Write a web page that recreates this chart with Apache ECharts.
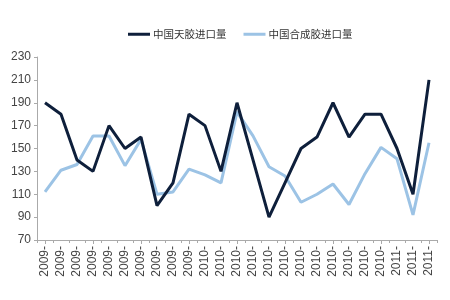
<!DOCTYPE html>
<html><head><meta charset="utf-8">
<script src="https://cdn.jsdelivr.net/npm/echarts@6/dist/echarts.min.js"></script>
<style>html,body{margin:0;padding:0;background:#fff}#c{width:450px;height:300px}</style>
</head><body><div id="c"></div>
<script>
var categories = ["2009-","2009-","2009-","2009-","2009-","2009-","2009-","2009-","2009-","2009-",
  "2010-","2010-","2010-","2010-","2010-","2010-","2010-","2010-","2010-","2010-","2010-","2010-",
  "2011-","2011-","2011-"];
var seriesNames = ["中国天胶进口量", "中国合成胶进口量"];
var naturalRubber = [190,180,140,130,170,150,160,100,120,180,170,130,190,140,90,120,150,160,190,160,180,180,150,110,210];
var syntheticRubber = [112,131,136,161,161,135,158,110,112,132,127,120,182,161,134,126,103,110,119,101,128,151,141,92,155];
var yTicks = {min:70, max:230, interval:20};

var chart = echarts.init(document.getElementById('c'));
var font = 'Liberation Sans, Arial, sans-serif';
chart.setOption({
  animation:false,
  backgroundColor:'#fff',
  legend:{
    top:24, left:123, itemWidth:22, itemHeight:3, itemGap:17,
    icon:'rect',
    textStyle:{fontSize:10.5, color:'#333', fontFamily:'Noto Sans CJK SC', padding:[0,0,0,-2]},
    data:seriesNames
  },
  grid:{left:37, right:13, top:57, bottom:60},
  xAxis:[{
    type:'category', data:categories, boundaryGap:true,
    axisLine:{lineStyle:{color:'#aaa'}},
    axisTick:{show:true, alignWithLabel:false, length:3, lineStyle:{color:'#aaa'}},
    axisLabel:{rotate:90, interval:0, margin:6, fontSize:12, color:'#444', fontFamily:font}
  },{
    type:'category', data:categories, boundaryGap:true, position:'bottom',
    axisLine:{show:false},
    axisTick:{show:true, alignWithLabel:true, length:4, lineStyle:{color:'#aaa'}},
    axisLabel:{show:false}
  }],
  yAxis:{
    type:'value', min:yTicks.min, max:yTicks.max, interval:yTicks.interval,
    axisLine:{show:true, lineStyle:{color:'#aaa'}},
    axisTick:{show:true, length:3, lineStyle:{color:'#aaa'}},
    splitLine:{show:false},
    axisLabel:{fontSize:12, color:'#444', margin:6, fontFamily:font}
  },
  series:[{
    name:seriesNames[0], type:'line', data:naturalRubber, symbol:'none',
    lineStyle:{width:3, color:'#0e1f3b'}, itemStyle:{color:'#0e1f3b'}, z:3
  },{
    name:seriesNames[1], type:'line', data:syntheticRubber, symbol:'none',
    lineStyle:{width:3, color:'#9cc3e5'}, itemStyle:{color:'#9cc3e5'}, z:2
  }]
});
</script></body></html>
